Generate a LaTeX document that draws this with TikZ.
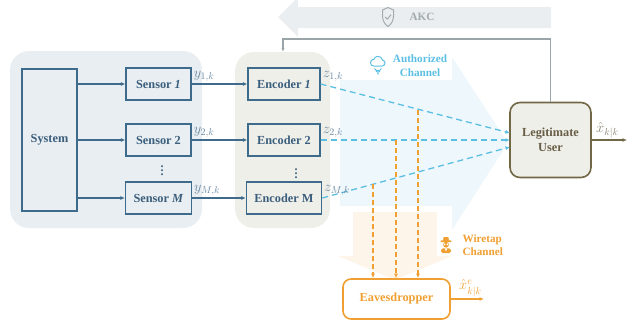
\documentclass[tikz,border=0pt]{standalone}
\usepackage{amsmath}
\usepackage{amssymb}
\usepackage[no-math]{fontspec}
\setmainfont{Liberation Serif}
\usepackage{tikz}
\usetikzlibrary{shapes,arrows.meta,positioning}

\definecolor{sysblue}{HTML}{3E6B8C}
\definecolor{systext}{HTML}{3B5E7C}
\definecolor{sigblue}{HTML}{6A88A2}
\definecolor{panelblue}{HTML}{E8EEF1}
\definecolor{panelgray}{HTML}{EFEFEA}
\definecolor{userbrown}{HTML}{726848}
\definecolor{usertext}{HTML}{675D45}
\definecolor{sigbrown}{HTML}{8A8270}
\definecolor{linkgray}{HTML}{99A5A9}
\definecolor{akcfill}{HTML}{EAEEF0}
\definecolor{akctext}{HTML}{A3ABAE}
\definecolor{chanblue}{HTML}{5BBFE3}
\definecolor{chanfill}{HTML}{EEF7FB}
\definecolor{tapor}{HTML}{F0A033}
\definecolor{tapfill}{HTML}{FDF5EA}

\tikzset{
  boxfont/.style={font=\fontsize{12.3}{15}\selectfont\bfseries},
  lblfont/.style={font=\fontsize{11.2}{13.5}\selectfont\bfseries},
  panelbox/.style={rounded corners=19pt, inner sep=0pt},
  unitbox/.style={boxfont, draw=sysblue, line width=1.3pt, text=systext,
    minimum height=32pt, minimum width=65pt, inner xsep=8pt},
  sysarrow/.style={sysblue, line width=1.3pt, -{Latex[length=4.5pt,width=4pt]}},
  chanline/.style={chanblue, line width=1.3pt, dash pattern=on 6pt off 4pt,
    -{Latex[length=4.5pt,width=4pt]}},
  tapline/.style={tapor, line width=1.3pt, dash pattern=on 5pt off 3pt,
    -{Latex[length=4.5pt,width=4pt]}},
  userbox/.style={boxfont, draw=userbrown, fill=panelgray, line width=1.6pt,
    text=usertext, rounded corners=10pt, align=center,
    minimum width=81pt, minimum height=75pt},
  evebox/.style={boxfont, draw=tapor, fill=white, line width=1.6pt,
    text=tapor, rounded corners=8pt, minimum width=107pt, minimum height=40pt},
  sigmath/.style={font=\fontsize{14}{16}\selectfont, inner sep=1.5pt},
}

\begin{document}
\begin{tikzpicture}[x=1pt,y=-1pt] % sensors, encoders and the two channels
\useasboundingbox (0,0) rectangle (636,322);

% back panels and channel arrows
\node[panelbox, fill=panelblue, minimum width=192pt, minimum height=177pt] (senpanel) at (106,139.5) {};
\node[panelbox, fill=panelgray, minimum width=95pt, minimum height=176pt] (encpanel) at (282.5,140) {};
\fill[akcfill] (551,7) -- (298,7) -- (298,-3) -- (278,17) -- (298,37) -- (298,28) -- (551,28) -- cycle;
\fill[chanfill] (340,80) -- (452,80) -- (452,57) -- (508,143) -- (452,230) -- (452,206) -- (340,206) -- cycle;
\fill[tapfill] (353,212) -- (437,212) -- (437,256) -- (452,256) -- (395,280) -- (338,256) -- (353,256) -- cycle;

\node[unitbox, minimum width=55pt, minimum height=142pt] (sys) at (49.5,140) {System};

\node[unitbox] (sen1) at (158.5,84) {Sensor \textit{1}};
\node[unitbox] (sen2) at (158.5,140) {Sensor 2};
\node[unitbox] (senM) at (158.5,198) {Sensor \textit{M}};
\node[text=systext, font=\large\bfseries] (sdots) at (162,168) {$\vdots$};

\node[unitbox, minimum width=72pt] (enc1) at (284,84) {Encoder \textit{1}};
\node[unitbox, minimum width=72pt] (enc2) at (284,140) {Encoder 2};
\node[unitbox, minimum width=72pt] (encM) at (284,198) {Encoder M};
\node[text=systext, font=\large\bfseries] (edots) at (296,171) {$\vdots$};

\node[userbox] (lu) at (550.5,140) {Legitimate\\User};
\node[evebox] (eve) at (396.5,299) {Eavesdropper};

\draw[sysarrow] (sys.east |- sen1) -- (sen1);
\draw[sysarrow] (sys.east |- sen2) -- (sen2);
\draw[sysarrow] (sys.east |- senM) -- (senM);

\draw[sysarrow] (sen1) -- (enc1) node[pos=0, above right, sigmath, text=sigblue] {$y_{1,k}$};
\draw[sysarrow] (sen2) -- (enc2) node[pos=0, above right, sigmath, text=sigblue] {$y_{2,k}$};
\draw[sysarrow] (senM) -- (encM) node[pos=0, above right, sigmath, text=sigblue] {$y_{M,k}$};

% authorized channel
\coordinate (lu1) at (510,133);
\coordinate (lu2) at (510,140);
\coordinate (luM) at (510,147);
\draw[chanline] (enc1.east) -- (lu1) node[pos=0, above right, sigmath, text=sigblue] {$z_{1,k}$};
\draw[chanline] (enc2.east) -- (lu2) node[pos=0, above right, sigmath, text=sigblue] {$z_{2,k}$};
\draw[chanline] (encM.east) -- (luM) node[pos=0, above right, sigmath, text=sigblue] {$z_{M,k}$};

% wiretap taps
\coordinate (tap1) at (418,109.8);
\coordinate (tap2) at (396,140);
\coordinate (tapM) at (373,183.8);
\draw[tapline] (tap1) -- (tap1 |- eve.north);
\draw[tapline] (tap2) -- (tap2 |- eve.north);
\draw[tapline] (tapM) -- (tapM |- eve.north);

% outputs
\coordinate (xhat) at (627,140);
\coordinate (xeve) at (484,299);
\draw[userbrown, line width=1.3pt, -{Latex[length=4.5pt,width=4pt]}] (lu) -- (xhat)
  node[midway, above, sigmath, text=sigbrown, xshift=-2pt] {$\hat{x}_{k|k}$};
\draw[tapor, line width=1.3pt, -{Latex[length=4.5pt,width=4pt]}] (eve) -- (xeve)
  node[midway, above, sigmath, text=tapor, xshift=3pt] {$\hat{x}^{e}_{k|k}$};

% key feedback
\coordinate (fbturn) at (283,39);
\draw[linkgray, line width=1.2pt, -{Latex[length=4pt,width=3.5pt]}] (lu.north) |- (fbturn) -- (fbturn |- encpanel.north);

% labels and icons
\node[lblfont, text=akctext, anchor=west] (akclbl) at (406,17) {AKC};
\node[lblfont, text=chanblue, align=center] (authlbl) at (420,65.5) {Authorized\\Channel};
\node[lblfont, text=tapor, align=left, anchor=west] (taplbl) at (459,245) {Wiretap\\Channel};

\begin{scope}[shift={(388,17)}, yscale=-1]
  \draw[akctext, line width=1pt, line join=round] (0,9.5) -- (5.5,7) -- (5.5,1) .. controls (5.5,-5) and (2,-8) .. (0,-9.5)
    .. controls (-2,-8) and (-5.5,-5) .. (-5.5,1) -- (-5.5,7) -- cycle;
  \draw[akctext, line width=1pt, line cap=round, line join=round] (-2.8,0) -- (-0.8,-2.2) -- (3,2.2);
\end{scope}

\begin{scope}[shift={(378,63)}, yscale=-1]
  \draw[chanblue, line width=1pt] (-4,-3) -- (4,-3) arc[start angle=-90, end angle=80, radius=3]
    arc[start angle=10, end angle=160, radius=4.5] arc[start angle=90, end angle=270, radius=3.4] -- cycle;
  \draw[chanblue, line width=1pt] (-3.5,-5.5) arc[start angle=200, end angle=340, radius=3.7];
  \draw[chanblue, line width=1pt] (-2,-8) arc[start angle=210, end angle=330, radius=2.3];
  \fill[chanblue] (0,-10.8) circle (0.9);
\end{scope}

\begin{scope}[shift={(446,245)}, yscale=-1]
  \fill[tapor] (-3,4) -- (-2.4,8) -- (2.4,8) -- (3,4) -- cycle;
  \fill[tapor, rounded corners=0.7pt] (-5.5,3) rectangle (5.5,4.6);
  \fill[tapor] (0,0.3) circle (2.9);
  \fill[white] (-1.4,0.6) circle (1) (1.4,0.6) circle (1);
  \fill[tapor, rounded corners=1.5pt] (-5,-8) -- (-4.6,-3.3) -- (4.6,-3.3) -- (5,-8) -- cycle;
  \fill[white] (-1.2,-3.3) -- (1.2,-3.3) -- (0,-6.5) -- cycle;
\end{scope}

\end{tikzpicture}
\end{document}
